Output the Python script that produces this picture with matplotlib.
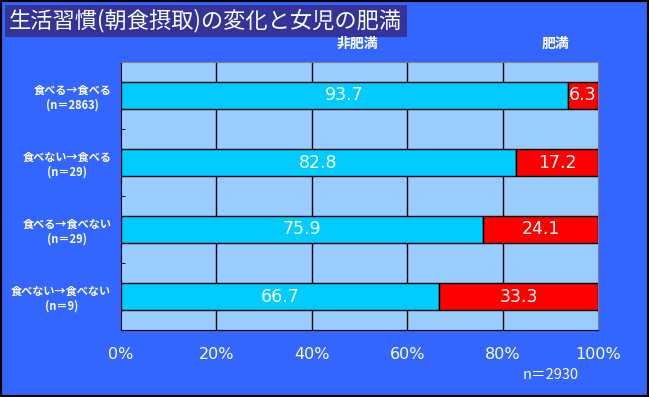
import numpy as np
import matplotlib
matplotlib.use('Agg')
from matplotlib import pyplot as plt
from matplotlib.patches import Rectangle

plt.rcParams['font.family'] = ['Noto Sans CJK JP', 'DejaVu Sans']

categories = ['食べる→食べる\n(n＝2863)', '食べない→食べる\n(n＝29)',
              '食べる→食べない\n(n＝29)', '食べない→食べない\n(n＝9)']
non_obese = [93.7, 82.8, 75.9, 66.7]
obese = [6.3, 17.2, 24.1, 33.3]
series_names = ['非肥満', '肥満']
xticks = [0, 20, 40, 60, 80, 100]

fig = plt.figure(figsize=(6.49, 3.97), dpi=100)
fig.patch.set_facecolor('#3366FF')
fig.patches.append(Rectangle((0, 0), 1, 1, transform=fig.transFigure, fill=False,
                             edgecolor='black', linewidth=3, zorder=10))

ax = fig.add_axes([121 / 649, 67 / 397, 477 / 649, 268 / 397])
ax.set_facecolor('#99CCFF')

y = np.arange(len(categories))
h = 0.39
ax.barh(y, non_obese, height=h, color='#00CCFF', edgecolor='black', linewidth=1, zorder=3)
ax.barh(y, obese, left=non_obese, height=h, color='#FF0000', edgecolor='black', linewidth=1, zorder=3)

for i in range(len(categories)):
    ax.text(non_obese[i] / 2, y[i], f'{non_obese[i]:.1f}', color='white', fontsize=12.5,
            ha='center', va='center', zorder=4, family='DejaVu Sans')
    ax.text(non_obese[i] + obese[i] / 2, y[i], f'{obese[i]:.1f}', color='white', fontsize=12.5,
            ha='center', va='center', zorder=4, family='DejaVu Sans')

ax.set_xlim(0, 100)
ax.set_ylim(len(categories) - 0.5, -0.5)
for gx in xticks[1:-1]:
    ax.axvline(gx, color='black', linewidth=1, zorder=1)

ax.set_xticks(xticks)
ax.set_xticklabels([f'{v}%' for v in xticks], color='white', fontsize=11.5, family='DejaVu Sans')
ax.tick_params(axis='x', length=0, pad=12)
ax.set_yticks(y)
ax.set_yticklabels(categories, color='white', fontsize=8, fontweight='bold',
                   linespacing=1.2, multialignment='center')
ax.tick_params(axis='y', length=0, pad=7)
ax.set_yticks(y[:-1] + 0.5, minor=True)
ax.tick_params(axis='y', which='minor', direction='in', length=3, color='black')

ax.spines['left'].set_color('black')
ax.spines['bottom'].set_color('black')
ax.spines['top'].set_color('#808080')
ax.spines['right'].set_color('#808080')

fig.text(9 / 649, 1 - 21 / 397, '生活習慣(朝食摂取)の変化と女児の肥満', color='white', fontsize=16,
         ha='left', va='center',
         bbox=dict(boxstyle='square,pad=0.2', facecolor='#333399', edgecolor='none'))
fig.text(357 / 649, 1 - 44 / 397, series_names[0], color='white', fontsize=10, fontweight='bold',
         ha='center', va='center')
fig.text(556 / 649, 1 - 44 / 397, series_names[1], color='white', fontsize=10, fontweight='bold',
         ha='center', va='center')
fig.text(551 / 649, 1 - 375 / 397, 'n＝2930', color='white', fontsize=10.5, ha='center', va='center')

fig.savefig('out.png', dpi=100, facecolor=fig.get_facecolor())
